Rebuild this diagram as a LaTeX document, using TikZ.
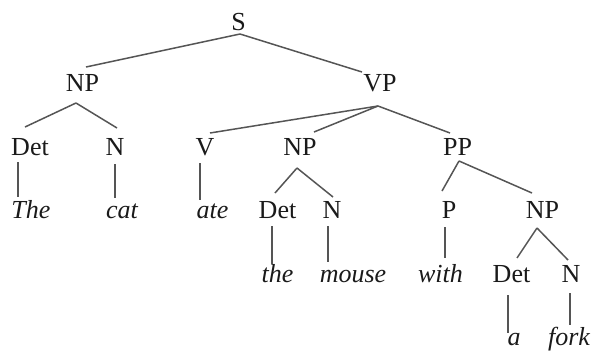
\documentclass[tikz,border=0pt]{standalone}
\usepackage{fontspec}
\setmainfont{Liberation Serif}
\definecolor{inkcol}{HTML}{1A1A1A}
\definecolor{linecol}{HTML}{555555}
\tikzset{
  cat/.style={anchor=base, inner sep=0pt, text=inkcol,
    font=\fontsize{26}{30}\selectfont},
  word/.style={cat, font=\fontsize{26}{30}\selectfont\itshape},
  branch/.style={draw=linecol, line width=1.5pt}
}
% \br{parent}{dx}{dy}{child}{dx}{dy}: branch between two labels, offsets from each base point
\newcommand\br[6]{\draw[branch] ([shift={(#2,#3)}]#1.base) -- ([shift={(#5,#6)}]#4.base);}
\begin{document}
\begin{tikzpicture}[x=1pt, y=-1pt]
\useasboundingbox (0,0) rectangle (594,351);

% categories
\node[cat] (S)    at (238.5,30) {S};
\node[cat] (NPa)  at (82.5,91)  {NP};
\node[cat] (VP)   at (380,91)   {VP};
\node[cat] (Deta) at (30,155)   {Det};
\node[cat] (Na)   at (115,155)  {N};
\node[cat] (V)    at (205,155)  {V};
\node[cat] (NPb)  at (300,155)  {NP};
\node[cat] (PP)   at (457.5,155){PP};
\node[cat] (Detb) at (277.5,218){Det};
\node[cat] (Nb)   at (332,218)  {N};
\node[cat] (P)    at (449,218)  {P};
\node[cat] (NPc)  at (542.5,218){NP};
\node[cat] (Detc) at (511.5,282){Det};
\node[cat] (Nc)   at (571,282)  {N};

% words
\node[word] (wThe)   at (31,218)   {The};
\node[word] (wcat)   at (122,218)  {cat};
\node[word] (wate)   at (212.5,218){ate};
\node[word] (wthe)   at (277.5,282){the};
\node[word] (wmouse) at (353,282)  {mouse};
\node[word] (wwith)  at (440.5,282){with};
\node[word] (wa)     at (514,345)  {a};
\node[word] (wfork)  at (569,345)  {fork};

% branches
\br{S}{1.5}{4}{NPa}{3.5}{-24}
\br{S}{1.5}{4}{VP}{-18}{-19}
\br{NPa}{-6.5}{12}{Deta}{-5}{-28}
\br{NPa}{-6.5}{12}{Na}{2}{-27}
\br{VP}{-2}{15}{V}{5}{-22}
\br{VP}{-2}{15}{NPb}{14}{-23}
\br{VP}{-2}{15}{PP}{-7.5}{-22}
\br{Deta}{-12}{7}{wThe}{-13}{-21}
\br{Na}{0}{9}{wcat}{-7}{-20}
\br{V}{-5}{8}{wate}{-12.5}{-18}
\br{NPb}{-3}{13}{Detb}{-2.5}{-25}
\br{NPb}{-3}{13}{Nb}{1}{-21}
\br{PP}{1.5}{6}{P}{-7}{-27}
\br{PP}{1.5}{6}{NPc}{-10.5}{-25}
\br{Detb}{-5.5}{8}{wthe}{-5.5}{-18}
\br{Nb}{-4}{8}{wmouse}{-25}{-20}
\br{P}{-4}{9}{wwith}{4.5}{-24}
\br{NPc}{-5.5}{10}{Detc}{5.5}{-24}
\br{NPc}{-5.5}{10}{Nc}{-3}{-22}
\br{Detc}{-3.5}{13}{wa}{-6}{-12}
\br{Nc}{-1}{11}{wfork}{1}{-20}
\end{tikzpicture}
\end{document}
